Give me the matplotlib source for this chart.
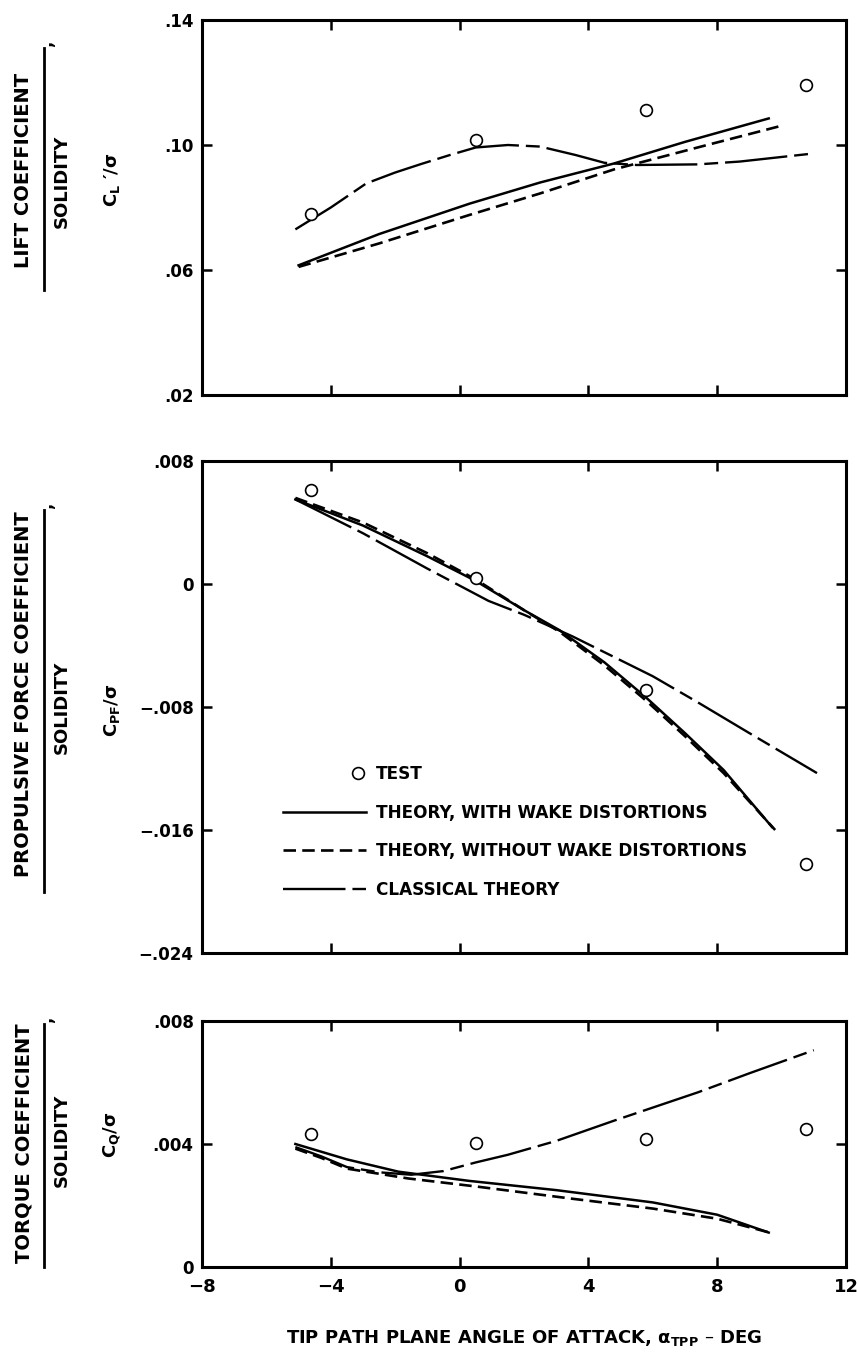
import matplotlib
matplotlib.use('Agg')
import matplotlib.pyplot as plt
from matplotlib.lines import Line2D
from matplotlib.legend_handler import HandlerLine2D
from matplotlib.ticker import FixedLocator, FixedFormatter

plt.rcParams['font.family'] = ['DejaVu Sans']
plt.rcParams['font.weight'] = 'bold'
plt.rcParams['mathtext.default'] = 'regular'
plt.rcParams['lines.scale_dashes'] = False

# test points, tip path plane angle (deg)
alpha_test = [-4.6, 0.5, 5.8, 10.75]
cl_test = [0.0778, 0.1015, 0.1112, 0.1192]
cpf_test = [0.0061, 0.0004, -0.0069, -0.0182]
cq_test = [0.00432, 0.00402, 0.00416, 0.00449]

# lift / solidity
cl_wake_x = [-5.0, -2.5, 0.3, 2.5, 4.8, 7.0, 9.6]
cl_wake = [0.0615, 0.0715, 0.0812, 0.0880, 0.0941, 0.1010, 0.1085]
cl_nowake_x = [-5.0, -2.5, 0.3, 2.5, 4.8, 7.5, 9.9]
cl_nowake = [0.0610, 0.0685, 0.0776, 0.0845, 0.0922, 0.0995, 0.1059]
cl_class_x = [-5.1, -4.0, -2.9, -2.0, -1.2, -0.3, 0.5, 1.5, 2.5, 3.6, 4.5,
              5.5, 7.4, 8.7, 11.0]
cl_class = [0.0730, 0.0800, 0.0877, 0.0912, 0.0939, 0.0968, 0.0992, 0.1000,
            0.0995, 0.0968, 0.0943, 0.0936, 0.0938, 0.0947, 0.0973]

# propulsive force / solidity
cpf_wake_x = [-5.1, -3.0, -1.0, 0.5, 2.0, 3.1, 4.5, 5.8, 7.0, 8.2, 9.7]
cpf_wake = [0.0055, 0.0038, 0.0018, 0.0002, -0.0017, -0.0030, -0.0051,
            -0.0074, -0.0097, -0.0121, -0.0158]
cpf_nowake_x = [-5.1, -3.0, -1.0, 0.5, 2.0, 3.1, 4.5, 5.8, 7.0, 8.2, 9.8]
cpf_nowake = [0.0056, 0.0040, 0.0020, 0.0003, -0.0017, -0.0031, -0.0053,
              -0.0076, -0.0099, -0.0123, -0.0160]
cpf_class_x = [-5.1, -3.0, -1.0, 0.9, 2.0, 3.5, 6.0, 7.4, 9.0, 11.1]
cpf_class = [0.0055, 0.0033, 0.0010, -0.0011, -0.0020, -0.0034, -0.0060,
             -0.0077, -0.0097, -0.0123]

# torque / solidity
cq_wake_x = [-5.1, -3.5, -1.9, 0.3, 3.0, 6.0, 8.0, 9.6]
cq_wake = [0.00400, 0.00350, 0.00310, 0.00280, 0.00250, 0.00210, 0.00170,
           0.00112]
cq_nowake_x = [-5.1, -4.3, -3.5, -1.6, 0.5, 3.5, 6.0, 8.0, 9.7]
cq_nowake = [0.00385, 0.00355, 0.00320, 0.00288, 0.00262, 0.00222, 0.00190,
             0.00157, 0.00110]
cq_class_x = [-5.1, -4.3, -3.5, -2.5, -1.5, -0.5, 0.5, 1.5, 3.0, 4.8, 7.4,
              9.0, 11.0]
cq_class = [0.00390, 0.00360, 0.00325, 0.00308, 0.00300, 0.00312, 0.00340,
            0.00365, 0.00410, 0.00476, 0.00568, 0.00630, 0.00705]

x_ticks = [-8, -4, 0, 4, 8, 12]
x_ticklabels = ['\u22128', '\u22124', '0', '4', '8', '12']

W, H = 857, 1356
fig = plt.figure(figsize=(W / 100, H / 100), dpi=100)


def fx(px):
    return px / W


def fy(py):
    return 1 - py / H


def make_axes(top, bottom):
    return fig.add_axes([fx(202), fy(bottom), (846 - 202) / W, (bottom - top) / H])


SOLID = dict(color='k', lw=1.8, linestyle='-')
DASHED = dict(color='k', lw=1.9, linestyle=(0, (9, 4.5)))
CLASSIC = dict(color='k', lw=1.7, linestyle=(0, (45, 5, 10, 5)))
TEST = dict(color='k', linestyle='none', marker='o', markersize=8.5,
            markerfacecolor='white', markeredgewidth=1.2)

ax1 = make_axes(20, 395)
ax2 = make_axes(461, 953)
ax3 = make_axes(1021, 1267)

ax1.plot(cl_wake_x, cl_wake, **SOLID)
ax1.plot(cl_nowake_x, cl_nowake, **DASHED)
ax1.plot(cl_class_x, cl_class, **CLASSIC)
ax1.plot(alpha_test, cl_test, **TEST)

l_wake, = ax2.plot(cpf_wake_x, cpf_wake, **SOLID)
l_nowake, = ax2.plot(cpf_nowake_x, cpf_nowake, **DASHED)
l_class, = ax2.plot(cpf_class_x, cpf_class, **CLASSIC)
l_test, = ax2.plot(alpha_test, cpf_test, **TEST)

ax3.plot(cq_wake_x, cq_wake, **SOLID)
ax3.plot(cq_nowake_x, cq_nowake, **DASHED)
ax3.plot(cq_class_x, cq_class, **CLASSIC)
ax3.plot(alpha_test, cq_test, **TEST)

ylims = [(0.02, 0.14), (-0.024, 0.008), (0, 0.008)]
yticks = [[0.02, 0.06, 0.10, 0.14],
          [-0.024, -0.016, -0.008, 0, 0.008],
          [0, 0.004, 0.008]]
yticklabels = [['.02', '.06', '.10', '.14'],
               ['\u2212.024', '\u2212.016', '\u2212.008', '0', '.008'],
               ['0', '.004', '.008']]

for ax, lim, tk, tl in zip([ax1, ax2, ax3], ylims, yticks, yticklabels):
    ax.set_xlim(-8, 12)
    ax.set_ylim(*lim)
    ax.xaxis.set_major_locator(FixedLocator(x_ticks))
    ax.yaxis.set_major_locator(FixedLocator(tk))
    ax.yaxis.set_major_formatter(FixedFormatter(tl))
    ax.tick_params(direction='in', length=7, width=1.8, top=True, right=True,
                   labelsize=12, pad=6)
    for s in ax.spines.values():
        s.set_linewidth(2.2)
    if ax is ax3:
        ax.xaxis.set_major_formatter(FixedFormatter(x_ticklabels))
        ax.tick_params(axis='x', labelsize=13, pad=8)
    else:
        ax.tick_params(axis='x', labelbottom=False)


class MarkerAtEnd(HandlerLine2D):
    def create_artists(self, legend, orig_handle, xdescent, ydescent, width,
                       height, fontsize, trans):
        arts = super().create_artists(legend, orig_handle, xdescent, ydescent,
                                      width, height, fontsize, trans)
        for a in arts:
            if a.get_marker() not in ('None', 'none', '', None):
                a.set_xdata([width - xdescent - 0.5 * fontsize])
        return arts


ax2.legend([l_test, l_wake, l_nowake, l_class],
           ['TEST', 'THEORY, WITH WAKE DISTORTIONS',
            'THEORY, WITHOUT WAKE DISTORTIONS', 'CLASSICAL THEORY'],
           handler_map={l_test: MarkerAtEnd()},
           loc='upper left', bbox_to_anchor=(0.126, 0.382), frameon=False,
           fontsize=12.2, handlelength=4.9, handletextpad=0.6,
           labelspacing=1.22, borderpad=0, borderaxespad=0)

# y axis label blocks: name over solidity, fraction bar, symbol
blocks = [
    ('LIFT COEFFICIENT', 'C$_L$ \u2032/\u03c3', 170, 48, 290, 181, 180),
    ('PROPULSIVE FORCE COEFFICIENT', 'C$_{PF}$/\u03c3', 694, 510, 892, 707, 710),
    ('TORQUE COEFFICIENT', 'C$_Q$/\u03c3', 1143, 1024, 1267, 1140, 1135),
]
for name, sym, yn, yb0, yb1, ys, ysym in blocks:
    fig.text(fx(24), fy(yn), name, rotation=90, ha='center', va='center',
             fontsize=14, fontweight='bold')
    fig.add_artist(Line2D([fx(44), fx(44)], [fy(yb0), fy(yb1)], color='k',
                          lw=2.0, transform=fig.transFigure))
    fig.text(fx(47), fy(yb0 - 4), ',', rotation=90, ha='center', va='center',
             fontsize=12, fontweight='bold')
    fig.text(fx(62), fy(ys), 'SOLIDITY', rotation=90, ha='center',
             va='center', fontsize=13, fontweight='bold')
    fig.text(fx(112), fy(ysym), sym, rotation=90, ha='center', va='center',
             fontsize=13, fontweight='bold')

fig.text(fx(524), fy(1338), 'TIP PATH PLANE ANGLE OF ATTACK, $\\alpha_{TPP}$ \u2013 DEG',
         ha='center', va='center', fontsize=13, fontweight='bold')

fig.savefig('out.png', dpi=100)
